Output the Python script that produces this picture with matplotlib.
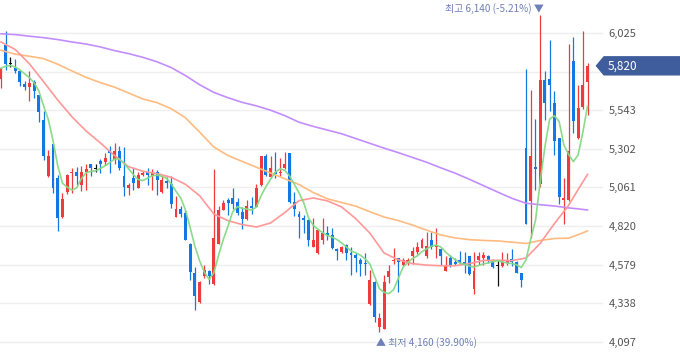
import numpy as np
import pandas as pd
import matplotlib
matplotlib.use("Agg")
import matplotlib.pyplot as plt
from matplotlib.patches import Polygon
from matplotlib.transforms import IdentityTransform, blended_transform_factory

plt.rcParams['font.family'] = ['Noto Sans CJK KR', 'DejaVu Sans']

# daily candles (KRW), oldest first
opens = [5740, 5950, 5830, 5805, 5785, 5705, 5685, 5720, 5635, 5480,
         5130, 5330, 5120, 4875, 5030, 5150, 5160, 5075, 5160, 5205,
         5175, 5225, 5220, 5290, 5230, 5290, 5130, 5060, 5120, 5060,
         5140, 5155, 5130, 5160, 5030, 5100, 5085, 4875, 4925, 4900,
         4710, 4525, 4345, 4505, 4540, 4460, 4710, 4920, 4980, 4995,
         4970, 4910, 4865, 4945, 4940, 5075, 5255, 5125, 5155, 5150,
         5180, 5275, 4970, 4895, 4870, 4855, 4690, 4650, 4735, 4775,
         4765, 4675, 4660, 4700, 4650, 4640, 4610, 4590, 4335, 4470,
         4190, 4180, 4500, 4600, 4620, 4575, 4590, 4630, 4660, 4685,
         4635, 4735, 4690, 4675, 4540, 4620, 4595, 4605, 4595, 4630,
         4425, 4605, 4620, 4635, 4605, 4570, 4570, 4590, 4615, 4595,
         4525, 5310, 4975, 5190, 5085, 5730, 5740, 5585, 5370, 4980,
         4980, 5850, 5370, 5560, 5720]
highs = [5805, 6035, 5875, 5865, 5790, 5725, 5785, 5730, 5640, 5540,
         5295, 5335, 5140, 5025, 5145, 5180, 5190, 5195, 5205, 5210,
         5205, 5240, 5275, 5320, 5340, 5320, 5315, 5090, 5185, 5155,
         5165, 5185, 5175, 5170, 5130, 5125, 5130, 5005, 4945, 4920,
         4715, 4565, 4475, 4575, 4545, 5175, 4945, 4985, 4995, 5055,
         4995, 4940, 4985, 5000, 5085, 5255, 5270, 5255, 5285, 5245,
         5285, 5275, 5030, 4915, 4890, 4865, 4870, 4800, 4870, 4820,
         4810, 4685, 4695, 4705, 4690, 4650, 4620, 4650, 4545, 4475,
         4275, 4515, 4575, 4680, 4620, 4620, 4620, 4690, 4720, 4745,
         4785, 4785, 4805, 4680, 4635, 4640, 4620, 4665, 4660, 4635,
         4660, 4660, 4655, 4640, 4615, 4605, 4655, 4650, 4675, 4600,
         4525, 5800, 5670, 5490, 6140, 5785, 5980, 5665, 5370, 5120,
         5955, 6000, 5700, 6035, 5840]
lows = [5680, 5795, 5810, 5775, 5695, 5670, 5600, 5620, 5470, 5230,
        5125, 5025, 4790, 4870, 5020, 5025, 5075, 5040, 5045, 5130,
        5160, 5150, 5200, 5150, 5205, 5170, 5005, 5015, 5045, 5055,
        5130, 5075, 5045, 5015, 5025, 5060, 4930, 4875, 4875, 4730,
        4485, 4295, 4340, 4495, 4460, 4450, 4710, 4920, 4890, 4925,
        4890, 4800, 4855, 4895, 4940, 5070, 5130, 5120, 5120, 5130,
        5175, 4965, 4880, 4745, 4775, 4695, 4690, 4645, 4710, 4730,
        4675, 4610, 4650, 4605, 4515, 4535, 4505, 4515, 4325, 4220,
        4160, 4175, 4465, 4585, 4410, 4570, 4575, 4585, 4645, 4680,
        4620, 4675, 4620, 4575, 4540, 4565, 4575, 4585, 4525, 4515,
        4395, 4575, 4575, 4590, 4555, 4445, 4565, 4575, 4570, 4525,
        4440, 4830, 4745, 5045, 5065, 5480, 5535, 5265, 4955, 4830,
        4975, 5400, 5365, 5550, 5510]
closes = [5805, 5830, 5830, 5785, 5720, 5685, 5715, 5665, 5530, 5260,
          5255, 5060, 4870, 4990, 5140, 5160, 5130, 5160, 5175, 5180,
          5175, 5205, 5245, 5275, 5290, 5180, 5065, 5075, 5090, 5140,
          5150, 5140, 5150, 5105, 5105, 5090, 4960, 4925, 4895, 4735,
          4530, 4380, 4470, 4545, 4505, 4745, 4920, 4965, 4965, 4955,
          4900, 4865, 4945, 4930, 5055, 5255, 5140, 5185, 5145, 5160,
          5205, 4970, 4925, 4875, 4855, 4735, 4735, 4795, 4775, 4765,
          4680, 4665, 4690, 4650, 4640, 4620, 4585, 4580, 4485, 4250,
          4245, 4470, 4540, 4610, 4595, 4605, 4610, 4665, 4690, 4730,
          4695, 4690, 4700, 4630, 4570, 4570, 4585, 4590, 4585, 4520,
          4540, 4635, 4640, 4610, 4565, 4570, 4595, 4605, 4595, 4525,
          4485, 4835, 5255, 5175, 5730, 5585, 5700, 5350, 5000, 4995,
          5290, 5475, 5555, 5700, 5820]

# longer moving averages every 3 sessions
ma_days = [0, 3, 6, 9, 12, 15, 18, 21, 24, 27, 30, 33, 36, 39, 42, 45,
           48, 51, 54, 57, 60, 63, 66, 69, 72, 75, 78, 81, 84, 87, 90,
           93, 96, 99, 102, 105, 108, 111, 114, 117, 120, 122, 124]
ma20 = [5969, 5922, 5833, 5721, 5606, 5502, 5413, 5339, 5260, 5190,
        5162, 5147, 5124, 5080, 5009, 4895, 4853, 4829, 4814, 4839,
        4904, 4978, 4995, 4977, 4939, 4866, 4775, 4651, 4609, 4585,
        4576, 4572, 4572, 4585, 4605, 4606, 4604, 4620, 4712, 4835,
        4949, 5047, 5142]
ma60 = [5917, 5893, 5880, 5865, 5830, 5788, 5748, 5715, 5687, 5650,
        5613, 5590, 5552, 5496, 5406, 5313, 5260, 5223, 5187, 5151,
        5115, 5079, 5029, 4990, 4967, 4944, 4909, 4876, 4854, 4826,
        4794, 4764, 4746, 4735, 4730, 4727, 4719, 4711, 4730, 4742,
        4744, 4766, 4789]
ma120 = [6020, 6015, 6005, 5996, 5984, 5969, 5956, 5938, 5915, 5896,
         5873, 5845, 5809, 5759, 5702, 5654, 5621, 5592, 5570, 5543,
         5509, 5468, 5442, 5419, 5396, 5366, 5336, 5306, 5278, 5248,
         5218, 5183, 5150, 5112, 5072, 5032, 4993, 4962, 4953, 4945,
         4933, 4927, 4920]

price_ticks = [4097, 4338, 4579, 4820, 5061, 5302, 5543, 5784, 6025]

df = pd.DataFrame({"open": opens, "high": highs, "low": lows, "close": closes})
df["ma5"] = df["close"].rolling(5, min_periods=1).mean()
x = np.arange(len(df))
last = closes[-1]

W, H = 680, 358
fig = plt.figure(figsize=(W / 100, H / 100), dpi=100)
ax = fig.add_axes([0, 0, 603 / W, 1])

up_col, down_col = "#ef3b3b", "#1478e4"
colors = np.where(df["close"] > df["open"], up_col,
                  np.where(df["close"] < df["open"], down_col, "#111111"))

body_lo = df[["open", "close"]].min(axis=1)
body_h = (df["close"] - df["open"]).abs().clip(lower=6)
ax.vlines(x, df["low"], df["high"], colors=colors, lw=0.9, zorder=2)
ax.bar(x, body_h, bottom=body_lo, width=0.62, color=colors, lw=0, zorder=3)

ax.plot(ma_days, ma120, color="#c28dff", lw=1.2, zorder=4)
ax.plot(ma_days, ma60, color="#ffbb80", lw=1.2, zorder=4)
ax.plot(ma_days, ma20, color="#ff9898", lw=1.2, zorder=4)
ax.plot(x, df["ma5"], color="#85d985", lw=1.2, zorder=4, alpha=0.95)

ax.set_xlim(-1 / 4.73, 602 / 4.73)
ax.set_ylim(3996, 6231)
ax.set_yticks(price_ticks)
# the 5,784 label sits under the last-price tag
ax.set_yticklabels(["" if abs(v - last) < 60 else f"{v:,}" for v in price_ticks])
ax.yaxis.tick_right()
ax.tick_params(axis="y", length=0, pad=4, labelsize=8, labelcolor="#555555")
ax.set_xticks([])
ax.grid(axis="y", color="#efefef", lw=1)
for s in ax.spines.values():
    s.set_visible(False)

# highest / lowest markers
hi_i = int(np.argmax(highs))
lo_i = int(np.argmin(lows))
lab_col = "#6f80b8"
tr = blended_transform_factory(ax.transData, ax.transAxes)
hi_pct = (last - highs[hi_i]) / highs[hi_i] * 100
lo_pct = (last - lows[lo_i]) / lows[lo_i] * 100
ax.text(hi_i + 0.7, 1 - 9 / H, f"최고 {highs[hi_i]:,} ({hi_pct:.2f}%) ▼",
        transform=tr, ha="right", va="center", fontsize=7.2, color=lab_col)
ax.text(lo_i - 0.8, 1 - 343 / H, f"▲ 최저 {lows[lo_i]:,} ({lo_pct:.2f}%)",
        transform=tr, ha="left", va="center", fontsize=7.2, color=lab_col)

# last price tag
yd = ax.transData.transform((0, last))[1]
tag = Polygon([(596.5, yd), (604, yd + 9), (680, yd + 9), (680, yd - 9), (604, yd - 9)],
              closed=True, transform=IdentityTransform(), color="#3f5c9c", zorder=10)
fig.add_artist(tag)
fig.text(608 / W, yd / H, f"{last:,}", color="white", fontsize=8.5,
         va="center", ha="left", zorder=11)

fig.savefig("out.png", dpi=100)
